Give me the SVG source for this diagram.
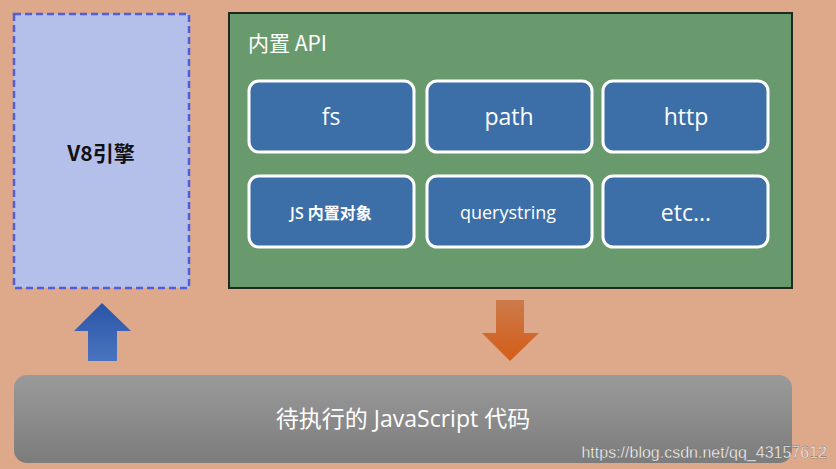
<svg xmlns="http://www.w3.org/2000/svg" width="836" height="469" viewBox="0 0 836 469">
<defs>
<linearGradient id="gb" x1="0" y1="0" x2="0" y2="1"><stop offset="0" stop-color="#9a9a9a"/><stop offset="1" stop-color="#7c7c7c"/></linearGradient>
<linearGradient id="ua" x1="0" y1="0" x2="0" y2="1"><stop offset="0" stop-color="#2a55a8"/><stop offset="1" stop-color="#4a74be"/></linearGradient>
<linearGradient id="da" x1="0" y1="0" x2="0" y2="1"><stop offset="0" stop-color="#cc7a4a"/><stop offset="1" stop-color="#d45d18"/></linearGradient>
</defs>
<style>
.m{fill:#3c6ea8;stroke:#fff;stroke-width:3}
.t{font-family:"Open Sans","Noto Sans CJK SC",sans-serif;fill:#fff;text-anchor:middle}
</style>
<rect width="836" height="469" fill="#dda98a"/>
<g id="v8">
<rect x="14" y="14" width="175" height="274" fill="#b5c0ea" stroke="#4f5fd8" stroke-width="2.5" stroke-dasharray="7,4"/>
<text x="101" y="161" font-family="'Noto Sans CJK SC',sans-serif" font-size="21" font-weight="bold" fill="#111" text-anchor="middle">V8引擎</text>
</g>
<g id="api">
<rect x="229" y="13" width="563" height="275" fill="#699a6d" stroke="#1d2a1d" stroke-width="2"/>
<text x="248" y="51" font-family="'Noto Sans CJK SC',sans-serif" font-size="21" fill="#fff">内置 API</text>
</g>
<g id="fs"><rect class="m" x="249" y="81" width="165" height="71" rx="10"/><text class="t" x="331" y="125" font-size="23">fs</text></g>
<g id="path"><rect class="m" x="427" y="81" width="165" height="71" rx="10"/><text class="t" x="509" y="125" font-size="23">path</text></g>
<g id="http"><rect class="m" x="603" y="81" width="165" height="71" rx="10"/><text class="t" x="686" y="125" font-size="23">http</text></g>
<g id="js"><rect class="m" x="249" y="176" width="165" height="71" rx="10"/><text class="t" x="331" y="219" font-size="16" font-weight="600">JS 内置对象</text></g>
<g id="qs"><rect class="m" x="427" y="176" width="165" height="71" rx="10"/><text class="t" x="508" y="219" font-size="18">querystring</text></g>
<g id="etc"><rect class="m" x="603" y="176" width="165" height="71" rx="10"/><text class="t" x="686" y="221" font-size="23">etc...</text></g>
<g id="connectors">
<polygon points="102,303 131,331 117,331 117,361 88,361 88,331 74,331" fill="url(#ua)"/>
<polygon points="496,300 524,300 524,333 539,333 510,361 482,333 496,333" fill="url(#da)"/>
</g>
<g id="code">
<rect x="14" y="375" width="778" height="88" rx="13" fill="url(#gb)"/>
<text class="t" x="403" y="427" font-size="23">待执行的 JavaScript 代码</text>
</g>
<text x="827" y="458" font-family="'Liberation Sans',sans-serif" font-size="16" fill="#fff" stroke="#555" stroke-width="0.3" text-anchor="end">https://blog.csdn.net/qq_43157612</text>
</svg>
